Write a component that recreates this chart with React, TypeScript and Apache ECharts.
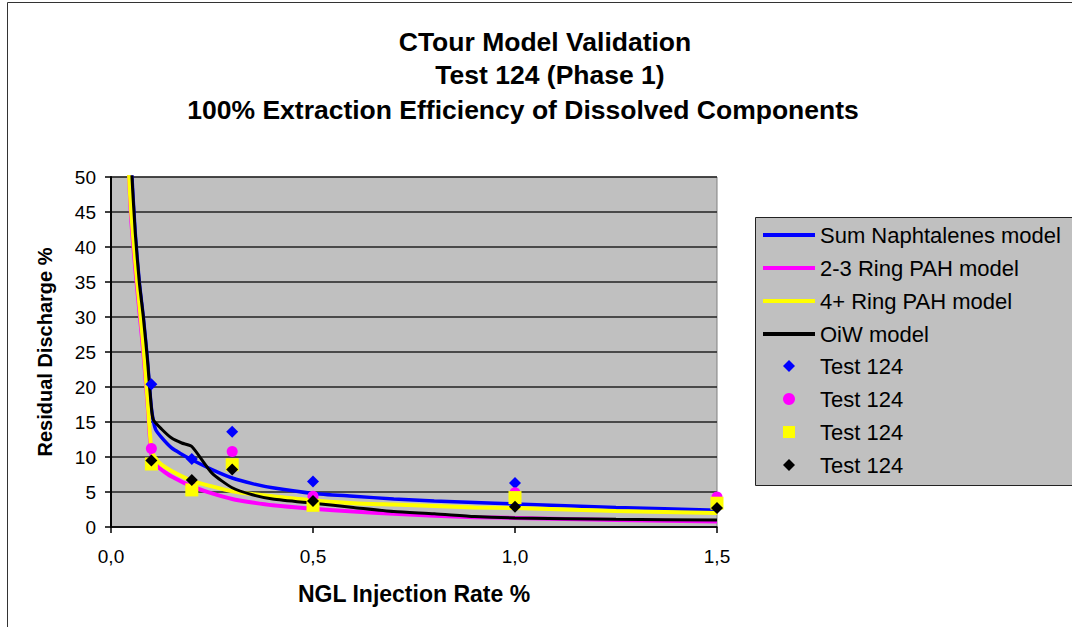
import React, { useEffect, useRef } from "react";
import * as echarts from "echarts";

// Model curves (x = NGL injection rate %, y = residual discharge %)
const xNaph = [0.045, 0.05, 0.06, 0.07, 0.08, 0.09, 0.1, 0.11, 0.125, 0.15, 0.175, 0.2, 0.25, 0.3, 0.35, 0.4, 0.5, 0.6, 0.7, 0.8, 0.9, 1.0, 1.25, 1.5];
const yNaph = [60, 52, 42, 35, 30, 24, 17, 14, 12.8, 11.3, 10.4, 9.6, 8.2, 7.0, 6.2, 5.6, 4.8, 4.4, 4.0, 3.7, 3.5, 3.3, 2.8, 2.4];

const xPah23 = [0.04, 0.045, 0.05, 0.06, 0.07, 0.08, 0.09, 0.1, 0.11, 0.125, 0.15, 0.2, 0.25, 0.3, 0.35, 0.4, 0.5, 0.6, 0.7, 0.8, 0.9, 1.0, 1.25, 1.5];
const yPah23 = [60, 50, 44, 37, 31, 25, 18, 10.3, 9.0, 8.2, 7.2, 5.8, 4.8, 4.0, 3.5, 3.1, 2.6, 2.2, 1.9, 1.6, 1.4, 1.3, 1.0, 0.8];

const xPah4 = [0.04, 0.045, 0.05, 0.06, 0.07, 0.08, 0.09, 0.1, 0.11, 0.125, 0.15, 0.2, 0.25, 0.3, 0.35, 0.4, 0.5, 0.6, 0.7, 0.8, 0.9, 1.0, 1.25, 1.5];
const yPah4 = [60, 50, 45, 38, 32, 26, 18.5, 11, 9.8, 8.9, 8.0, 6.6, 5.8, 5.1, 4.7, 4.4, 3.8, 3.4, 3.2, 3.0, 2.8, 2.7, 2.3, 2.0];

const xOiW = [0.045, 0.05, 0.06, 0.07, 0.08, 0.09, 0.1, 0.105, 0.125, 0.15, 0.175, 0.2, 0.25, 0.3, 0.35, 0.4, 0.5, 0.6, 0.7, 0.8, 0.9, 1.0, 1.25, 1.5];
const yOiW = [60, 52, 42, 35, 30, 24, 17, 15.3, 14, 12.7, 12, 11.5, 7.7, 5.6, 4.6, 4.0, 3.4, 2.8, 2.2, 1.9, 1.5, 1.3, 1.1, 1.0];

// Test 124 measurements
const xTest = [0.1, 0.2, 0.3, 0.5, 1.0, 1.5];
const testNaph = [20.4, 9.7, 13.6, 6.5, 6.3, 4.1];
const testPah23 = [11.2, 5.6, 10.8, 4.4, 4.9, 4.3];
const testPah4 = [9.0, 5.3, 8.9, 3.1, 4.2, 3.4];
const testOiW = [9.5, 6.7, 8.2, 3.7, 2.9, 2.7];

const xTicks = ["0,0", "0,5", "1,0", "1,5"];

const titleLines = [
  "CTour Model Validation",
  "Test 124 (Phase 1)",
  "100% Extraction Efficiency of Dissolved Components",
];

const lineNames = ["Sum Naphtalenes model", "2-3 Ring PAH model", "4+ Ring PAH model", "OiW model"];
const testNames = ["Test 124", "Test 124 ", "Test 124  ", "Test 124   "];

const zip = (xs: number[], ys: number[]) => xs.map((x, i) => [x, ys[i]]);

const FONT = "'Liberation Sans', Arial, sans-serif";

export default function App() {
  const ref = useRef<HTMLDivElement>(null);
  useEffect(() => {
    if (!ref.current) return;
    const chart = echarts.init(ref.current, undefined, { renderer: "svg" });
    const titleX = [545, 550, 523];
    const titleTop = [28, 61, 96];
    const lineColors = ["#0000ff", "#ff00ff", "#ffff00", "#000000"];
    const lineWidths = [3.5, 4, 4, 3];
    const lineData = [zip(xNaph, yNaph), zip(xPah23, yPah23), zip(xPah4, yPah4), zip(xOiW, yOiW)];
    const testData = [zip(xTest, testNaph), zip(xTest, testPah23), zip(xTest, testPah4), zip(xTest, testOiW)];
    const testSymbols = ["diamond", "circle", "rect", "diamond"];
    const testSizes = [12, 11, 13, 12];

    chart.setOption({
      animation: false,
      backgroundColor: "#ffffff",
      textStyle: { fontFamily: FONT },
      title: titleLines.map((t, i) => ({
        text: t,
        left: titleX[i],
        top: titleTop[i],
        textAlign: "center",
        padding: 0,
        textStyle: { fontSize: 26.5, fontWeight: "bold", color: "#000", fontFamily: FONT },
      })),
      graphic: [
        {
          type: "rect",
          z: -10,
          shape: { x: 7.5, y: 2.5, width: 1100, height: 700 },
          style: { fill: "none", stroke: "#333", lineWidth: 1 },
        },
        {
          type: "rect",
          z: -10,
          shape: { x: 755.5, y: 217.5, width: 330, height: 268 },
          style: { fill: "#c0c0c0", stroke: "#222", lineWidth: 1 },
        },
      ],
      legend: [
        {
          orient: "vertical",
          left: 763,
          top: 224,
          padding: 0,
          itemWidth: 52,
          itemHeight: 4,
          itemGap: 11,
          data: lineNames.map((n) => ({ name: n, icon: "rect" })),
          textStyle: { fontSize: 22, lineHeight: 22, color: "#000", fontFamily: FONT },
        },
        {
          orient: "vertical",
          left: 783,
          top: 355,
          padding: 0,
          itemWidth: 12,
          itemHeight: 12,
          itemGap: 11,
          data: testNames.map((n, i) => ({ name: n, icon: testSymbols[i] })),
          formatter: (n: string) => `{g|}${n.trim()}`,
          textStyle: {
            fontSize: 22,
            lineHeight: 22,
            color: "#000",
            fontFamily: FONT,
            rich: { g: { width: 20 } },
          },
        },
      ],
      grid: {
        left: 111,
        top: 177,
        right: 355,
        bottom: 100,
        show: true,
        backgroundColor: "#c0c0c0",
        borderColor: "#808080",
        borderWidth: 1,
      },
      xAxis: {
        type: "value",
        min: 0,
        max: 1.5,
        interval: 0.5,
        name: "NGL Injection Rate %",
        nameLocation: "middle",
        nameGap: 55,
        nameTextStyle: { fontSize: 23, fontWeight: "bold", color: "#000", fontFamily: FONT },
        axisLine: { show: true, lineStyle: { color: "#000", width: 1.5 } },
        axisTick: { show: true, length: 6, lineStyle: { color: "#000", width: 1.5 } },
        axisLabel: {
          margin: 20,
          fontSize: 19,
          color: "#000",
          fontFamily: FONT,
          formatter: (v: number) => xTicks[Math.round(v / 0.5)] ?? "",
        },
        splitLine: { show: false },
      },
      yAxis: {
        type: "value",
        min: 0,
        max: 50,
        interval: 5,
        name: "Residual Discharge %",
        nameLocation: "middle",
        nameRotate: 90,
        nameGap: 56,
        nameTextStyle: { fontSize: 20, fontWeight: "bold", color: "#000", fontFamily: FONT },
        axisLine: { show: true, lineStyle: { color: "#000", width: 2 } },
        axisTick: { show: true, length: 6, lineStyle: { color: "#000", width: 1.5 } },
        axisLabel: { margin: 15, fontSize: 19, color: "#000", fontFamily: FONT },
        splitLine: { show: true, lineStyle: { color: "#222", width: 1.5 } },
      },
      series: [
        ...lineNames.map((n, i) => ({
          name: n,
          type: "line",
          data: lineData[i],
          showSymbol: false,
          symbol: "none",
          clip: true,
          smooth: 0.2,
          lineStyle: { color: lineColors[i], width: lineWidths[i] },
          itemStyle: { color: lineColors[i] },
          z: 2 + i,
        })),
        ...testNames.map((n, i) => ({
          name: n,
          type: "scatter",
          data: testData[i],
          symbol: testSymbols[i],
          symbolSize: testSizes[i],
          clip: false,
          itemStyle: { color: lineColors[i], opacity: 1 },
          z: 10 + i,
        })),
      ],
    });
    return () => chart.dispose();
  }, []);
  return (
    <div
      ref={ref}
      style={{ position: "absolute", left: 0, top: 0, width: 1072, height: 627 }}
    />
  );
}
